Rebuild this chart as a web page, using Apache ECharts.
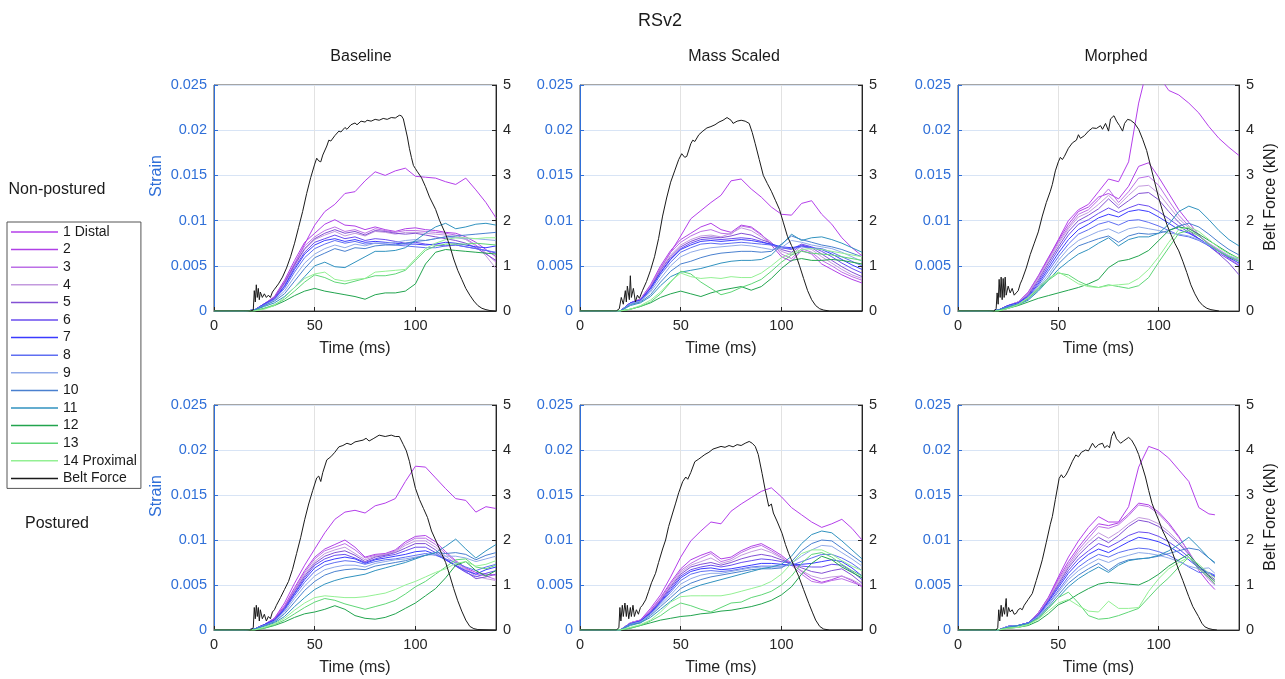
<!DOCTYPE html>
<html>
<head>
<meta charset="utf-8">
<script src="https://cdn.jsdelivr.net/npm/echarts@6/dist/echarts.min.js"></script>
<style>
html,body{margin:0;padding:0;background:#fff;}
#chart{width:1285px;height:679px;}
</style>
</head>
<body>
<div id="chart"></div>
<script>
// ---------- data ----------
const timeGrid = [0,15,20,25,30,35,40,45,50,55,60,65,70,75,80,85,90,95,100,105,110,115,120,125,130,135,140];
const timeGridMorphedPostured = [0,15,20,25,30,35,40,45,50,55,60,65,70,75,80,85,90,95,100,105,110,115,120,125,128];
const gaugeNames = ['1 Distal','2','3','4','5','6','7','8','9','10','11','12','13','14 Proximal'];
const beltName = 'Belt Force';
const columnTitles = ['Baseline','Mass Scaled','Morphed'];
const rowTitles = ['Non-postured','Postured'];
const strainTicks = [0,0.005,0.01,0.015,0.02,0.025];
const forceTicks = [0,1,2,3,4,5];
const timeTicks = [0,50,100];

// strain values in milli-strain (x1e-3); row = gauge 1..14
const strainBaselineNonPostured = [
[0,0,0.1,0.7,1.5, 3.2,5.2,7.4,9.5,11.0, 11.8,13.0,13.2,14.4,15.4, 15.0,15.5,15.8,14.9,14.8, 14.7,14.3,14.0,14.7,13.4, 12.0,10.3],
[0,0,0.1,0.8,1.6, 3.4,5.6,7.6,8.6,9.6, 10.1,9.5,9.4,9.0,9.3, 9.0,8.8,9.1,9.2,9.0, 8.9,8.7,8.6,8.2,7.6, 6.8,6.0],
[0,0,0.1,0.8,1.5, 3.2,5.3,7.2,8.2,8.9, 9.3,8.8,9.0,8.6,9.1, 8.9,8.7,8.9,8.9,8.8, 8.7,8.6,8.4,8.0,7.3, 6.4,5.4],
[0,0,0.1,0.7,1.4, 3.0,5.0,6.8,7.9,8.4, 8.8,8.3,8.6,8.3,8.8, 8.7,8.5,8.7,8.7,8.6, 8.5,8.4,8.2,7.9,7.2, 6.1,4.7],
[0,0,0.1,0.8,1.5, 3.1,5.1,6.9,8.0,8.6, 9.0,8.6,8.8,8.4,8.9, 8.8,8.6,8.5,8.6,8.4, 8.2,8.0,7.8,7.5,7.0, 6.3,5.6],
[0,0,0.1,0.7,1.4, 2.8,4.8,6.5,7.6,8.0, 8.4,8.0,8.2,7.8,8.0, 7.9,7.7,7.5,7.6,7.4, 7.3,7.2,7.3,7.1,6.9, 6.7,6.4],
[0,0,0.1,0.8,1.3, 2.7,4.6,6.3,7.3,7.8, 8.0,7.7,7.9,7.6,7.7, 7.6,7.5,7.4,7.4,7.3, 7.4,7.6,7.5,7.3,7.1, 7.0,7.2],
[0,0,0.1,0.7,1.3, 2.5,4.3,5.9,6.9,7.4, 7.8,7.5,7.7,7.4,7.5, 7.4,7.3,7.2,7.1,7.0, 7.0,7.2,7.3,7.1,6.9, 6.7,6.5],
[0,0,0.1,0.6,1.2, 2.2,3.8,5.3,6.3,6.9, 7.3,7.0,7.4,7.2,7.5, 7.5,7.6,7.8,7.9,7.8, 8.0,8.2,8.1,8.0,8.0, 7.9,7.8],
[0,0,0.1,0.6,1.1, 1.9,3.3,4.7,5.9,6.4, 6.9,6.6,7.0,6.9,7.2, 7.3,7.3,7.5,7.7,7.8, 8.0,8.2,8.3,8.4,8.5, 8.6,8.7],
[0,0,0.1,0.5,0.9, 1.6,2.6,3.8,5.0,5.4, 4.9,4.8,5.4,6.0,6.6, 6.6,6.7,7.0,7.8,8.6, 9.3,9.7,9.1,9.3,9.6, 9.7,9.5],
[0,0,0,0.3,0.6, 1.1,1.7,2.2,2.5,2.2, 2.0,1.8,1.6,1.3,1.8, 2.0,2.0,2.2,3.0,5.2, 6.5,6.8,6.7,6.6,6.5, 6.4,6.3],
[0,0,0,0.3,0.7, 1.3,2.2,3.2,4.0,3.7, 3.2,3.0,3.3,3.6,3.9, 3.9,4.1,4.5,5.6,6.7, 7.2,7.4,7.4,7.4,7.5, 7.4,7.3],
[0,0,0,0.2,0.6, 1.5,2.6,3.6,4.1,4.3, 3.5,3.3,3.5,3.6,4.3, 4.4,4.5,4.6,5.8,6.9, 7.5,7.9,8.1,8.1,8.0, 8.1,8.1]
];
const strainMassScaledNonPostured = [
[0,0,0,0.9,1.3, 2.8,4.7,6.5,8.3,10.2, 11.1,12.0,12.8,14.4,14.6, 13.5,12.6,11.5,10.7,10.6, 11.9,12.2,10.7,9.6,8.1, 7.0,6.1],
[0,0,0,0.9,1.3, 2.9,5.0,6.7,7.9,8.6, 9.3,9.7,9.0,8.7,9.5, 9.3,8.5,7.3,6.0,5.5, 6.7,6.3,5.2,4.6,4.0, 3.5,3.1],
[0,0,0,0.9,1.3, 2.8,4.8,6.5,7.6,8.3, 8.8,9.0,8.6,8.5,9.4, 9.2,8.4,7.6,6.3,5.8, 6.9,6.5,5.6,5.0,4.3, 3.8,3.4],
[0,0,0,0.9,1.2, 2.7,4.6,6.2,7.3,7.9, 8.3,8.4,8.2,8.6,9.2, 8.9,8.2,7.4,6.6,6.2, 7.2,6.8,6.0,5.3,4.6, 4.0,3.6],
[0,0,0,0.9,1.2, 2.6,4.5,6.0,7.1,7.7, 8.1,8.2,8.1,8.3,8.6, 8.4,7.9,7.5,6.8,6.5, 7.3,7.0,6.3,5.6,4.9, 4.3,3.8],
[0,0,0,0.9,1.2, 2.5,4.3,5.8,6.9,7.5, 7.9,8.0,7.9,8.0,8.1, 8.0,7.7,7.3,7.0,6.8, 7.4,7.1,6.6,6.0,5.3, 4.7,4.2],
[0,0,0,0.9,1.2, 2.5,4.2,5.7,6.8,7.3, 7.7,7.8,7.7,7.8,7.9, 7.8,7.6,7.4,7.1,7.0, 7.2,7.0,6.8,6.3,5.7, 5.1,4.6],
[0,0,0,0.8,1.1, 2.3,4.0,5.4,6.5,7.0, 7.4,7.5,7.4,7.5,7.6, 7.5,7.4,7.3,7.0,6.9, 7.1,7.0,6.9,6.5,6.0, 5.5,5.0],
[0,0,0,0.8,1.1, 2.1,3.6,5.0,6.0,6.5, 6.8,7.0,7.1,7.2,7.3, 7.2,7.0,6.8,7.0,7.8, 7.6,7.3,7.1,6.9,6.5, 6.0,5.5],
[0,0,0,0.7,1.0, 1.8,3.2,4.4,5.2,5.5, 5.9,6.2,6.4,6.5,6.6, 6.6,6.5,6.6,7.4,8.3, 7.9,7.6,7.3,7.1,6.8, 6.4,6.0],
[0,0,0,0.6,0.9, 1.6,2.8,3.8,4.3,4.5, 4.7,5.0,5.3,5.5,5.6, 5.6,5.7,6.2,7.3,8.5, 7.8,8.1,8.2,7.9,7.5, 7.0,6.5],
[0,0,0,0.2,0.5, 0.9,1.5,1.9,2.2,1.9, 1.6,2.0,2.3,2.5,2.7, 2.3,2.7,3.6,4.7,5.6, 5.8,5.6,5.6,5.7,5.6, 5.4,5.2],
[0,0,0,0.2,0.5, 1.0,1.9,3.2,4.4,4.1, 3.2,2.5,1.8,2.1,2.6, 3.0,3.5,4.4,5.4,6.2, 6.6,6.4,6.3,6.2,6.0, 5.8,5.6],
[0,0,0,0.2,0.6, 1.2,2.1,3.3,4.2,3.8, 3.6,3.7,3.6,3.8,3.7, 3.7,4.2,5.0,5.9,6.4, 6.8,6.9,6.8,6.6,6.4, 6.2,6.0]
];
const strainMorphedNonPostured = [
[0,0,0.1,0.6,1.0, 2.0,3.8,5.8,7.9,10.0, 11.2,11.8,13.2,14.6,14.3, 16.5,23.0,27.5,26.0,24.4, 23.9,23.0,21.9,20.4,19.1, 18.1,17.2],
[0,0,0.1,0.6,1.0, 2.1,3.9,5.9,7.8,9.6, 11.0,11.5,12.6,13.0,12.4, 13.8,16.0,16.4,14.8,13.0, 11.2,9.8,8.4,7.4,6.7, 6.0,5.5],
[0,0,0.1,0.6,1.0, 2.0,3.8,5.7,7.6,9.3, 10.7,11.2,12.3,13.5,12.0, 13.2,14.7,14.9,13.9,12.2, 10.6,9.4,8.3,7.4,6.6, 5.8,5.1],
[0,0,0.1,0.6,1.0, 1.9,3.6,5.5,7.4,9.1, 10.4,10.9,11.8,12.8,11.7, 12.8,13.8,13.9,13.0,11.6, 10.2,9.2,8.3,7.5,6.8, 6.1,5.6],
[0,0,0.1,0.6,0.9, 1.8,3.4,5.3,7.1,8.8, 10.0,10.6,11.3,12.4,11.4, 12.2,13.0,13.1,12.3,11.0, 9.8,8.9,8.0,7.2,6.3, 5.3,4.0],
[0,0,0.1,0.6,0.9, 1.7,3.2,5.0,6.8,8.4, 9.6,10.1,10.8,11.4,10.9, 11.4,11.8,11.6,11.0,10.2, 9.4,8.7,8.0,7.2,6.4, 5.7,5.0],
[0,0,0.1,0.6,0.9, 1.6,3.0,4.7,6.4,7.9, 9.0,9.6,10.3,10.7,10.4, 11.0,11.2,11.0,10.4,9.7, 9.0,8.6,8.0,7.3,6.6, 5.9,5.3],
[0,0,0.1,0.5,0.8, 1.5,2.8,4.4,6.0,7.4, 8.5,9.0,9.6,9.9,9.5, 10.0,10.1,9.8,9.4,8.9, 8.4,8.2,7.8,7.2,6.6, 6.0,5.5],
[0,0,0.1,0.5,0.8, 1.4,2.6,4.0,5.6,6.9, 7.8,8.3,8.8,9.1,8.6, 9.1,9.3,9.1,8.9,8.6, 8.5,8.3,7.9,7.3,6.7, 6.1,5.7],
[0,0,0.1,0.5,0.8, 1.3,2.4,3.7,5.2,6.3, 7.2,7.6,8.0,8.3,7.6, 8.3,8.6,8.5,8.6,8.9, 9.4,9.7,9.3,8.5,7.6, 6.8,6.2],
[0,0,0.1,0.4,0.7, 1.2,2.2,3.4,4.6,5.5, 6.3,6.8,7.5,8.1,7.2, 7.9,8.2,8.2,8.6,9.6, 11.0,11.6,11.2,10.1,8.9, 7.9,7.2],
[0,0,0,0.3,0.6, 1.0,1.4,1.7,2.0,2.3, 2.6,3.0,3.5,4.8,5.5, 5.7,6.1,6.7,7.8,8.9, 9.3,9.1,8.5,7.8,7.1, 6.4,5.8],
[0,0,0,0.3,0.7, 1.4,2.4,3.4,4.2,4.0, 3.3,2.8,2.6,2.9,2.7, 2.5,2.8,3.7,5.4,7.0, 8.6,8.9,8.3,7.4,6.6, 6.0,5.5],
[0,0,0,0.3,0.7, 1.5,2.6,3.6,4.3,3.7, 3.0,2.7,2.6,2.8,2.9, 3.0,3.6,4.6,6.0,7.6, 9.0,9.3,8.8,7.9,7.0, 6.3,5.8]
];
const strainBaselinePostured = [
[0,0,0.1,0.6,1.3, 3.0,5.2,7.2,9.0,10.8, 12.3,13.1,13.3,13.0,13.8, 14.1,14.6,16.5,18.2,18.1, 16.9,15.7,14.6,14.4,13.1, 13.7,13.5],
[0,0,0.1,0.6,1.3, 2.7,4.7,6.6,8.1,9.0, 9.5,10.0,9.2,8.1,8.4, 8.5,8.9,9.8,10.4,10.5, 9.8,8.7,7.7,6.9,6.4, 6.2,6.1],
[0,0,0.1,0.6,1.2, 2.6,4.5,6.4,7.9,8.8, 9.2,9.6,8.9,8.0,8.3, 8.4,8.8,9.6,10.2,10.2, 9.5,8.5,7.6,6.8,6.2, 6.0,5.6],
[0,0,0.1,0.6,1.2, 2.5,4.4,6.2,7.6,8.5, 8.9,9.2,8.5,7.8,8.2, 8.4,8.7,9.4,9.9,9.9, 9.2,8.2,7.4,6.7,6.0, 5.7,5.5],
[0,0,0.1,0.6,1.2, 2.5,4.3,6.0,7.4,8.2, 8.6,8.8,8.3,7.6,8.1, 8.3,8.6,9.1,9.6,9.6, 8.9,7.9,7.1,6.5,5.7, 5.9,6.2],
[0,0,0.1,0.6,1.1, 2.4,4.1,5.8,7.2,7.9, 8.3,8.4,8.0,7.5,7.9, 8.2,8.4,8.8,9.2,9.2, 8.6,7.8,7.1,6.4,5.9, 6.3,6.6],
[0,0,0.1,0.6,1.1, 2.3,4.0,5.6,6.9,7.6, 7.9,8.1,7.9,7.4,7.8, 8.0,8.2,8.4,8.7,8.8, 8.4,7.8,7.2,6.6,6.2, 6.7,7.0],
[0,0,0.1,0.5,1.0, 2.2,3.8,5.3,6.5,7.2, 7.5,7.7,7.6,7.3,7.6, 7.8,7.9,8.1,8.3,8.5, 8.3,7.9,7.5,7.0,6.6, 7.0,7.3],
[0,0,0.1,0.5,0.9, 2.0,3.5,4.9,6.0,6.7, 7.0,7.2,7.2,7.0,7.4, 7.6,7.8,7.9,8.1,8.3, 8.4,8.2,8.2,8.0,7.6, 7.9,8.2],
[0,0,0.1,0.5,0.9, 1.8,3.1,4.4,5.4,6.1, 6.5,6.7,6.8,6.7,7.1, 7.3,7.5,7.7,8.0,8.3, 8.6,8.5,8.6,8.4,7.8, 8.3,8.6],
[0,0,0.1,0.4,0.8, 1.5,2.6,3.6,4.5,5.1, 5.5,5.8,6.0,6.2,6.6, 6.9,7.2,7.5,7.9,8.3, 8.6,9.3,10.1,9.0,8.0, 8.8,9.5],
[0,0,0,0.2,0.5, 0.9,1.4,1.8,2.0,2.3, 2.7,2.3,1.6,1.3,1.2, 1.4,1.8,2.4,3.0,3.8, 4.6,5.8,7.2,7.6,6.6, 6.0,6.6],
[0,0,0,0.2,0.6, 1.1,1.8,2.5,3.1,3.5, 3.3,2.9,2.6,2.3,2.6, 2.9,3.3,4.0,4.8,5.4, 6.2,7.0,7.8,7.9,7.0, 6.8,7.2],
[0,0,0,0.3,0.7, 1.3,2.2,3.0,3.6,3.8, 3.7,3.6,3.6,3.7,3.9, 4.1,4.5,5.0,5.4,5.9, 6.4,6.8,7.4,7.6,7.1, 7.3,7.7]
];
const strainMassScaledPostured = [
[0,0,0,0.8,1.1, 2.4,3.9,5.9,8.1,9.9, 11.0,12.0,11.8,13.2,14.0, 14.7,15.4,15.8,14.8,13.6, 12.8,12.0,11.4,11.8,12.3, 11.3,10.0],
[0,0,0,0.8,1.1, 2.2,3.6,5.3,6.8,7.8, 8.3,8.7,7.9,8.1,8.8, 9.3,9.6,9.0,8.3,7.4, 6.5,5.7,5.3,5.6,6.0, 5.5,4.8],
[0,0,0,0.8,1.1, 2.1,3.5,5.1,6.6,7.4, 8.0,8.5,7.6,7.9,8.6, 9.1,9.4,8.8,8.1,7.2, 6.2,5.4,5.2,5.5,5.7, 5.3,4.9],
[0,0,0,0.8,1.0, 2.0,3.4,4.9,6.4,7.2, 7.6,8.0,7.4,7.7,8.3, 8.7,9.0,8.6,8.0,7.3, 6.6,6.0,5.7,5.9,6.0, 5.6,5.0],
[0,0,0,0.7,1.0, 2.0,3.3,4.8,6.2,7.0, 7.3,7.5,7.2,7.5,7.9, 8.2,8.4,8.2,7.8,7.4, 6.9,6.5,6.3,6.6,6.8, 6.1,5.2],
[0,0,0,0.7,1.0, 1.9,3.2,4.6,6.0,6.7, 7.0,7.2,7.0,7.2,7.5, 7.7,7.9,7.8,7.6,7.4, 7.1,7.0,7.0,7.3,7.2, 6.5,5.6],
[0,0,0,0.7,1.0, 1.9,3.1,4.4,5.8,6.5, 6.8,6.9,6.7,6.8,7.0, 7.2,7.4,7.4,7.3,7.2, 7.3,7.4,7.6,7.8,7.6, 6.9,6.0],
[0,0,0,0.7,0.9, 1.8,3.0,4.2,5.5,6.2, 6.5,6.6,6.5,6.6,6.8, 7.0,7.1,7.1,7.1,7.2, 7.6,8.0,8.4,8.4,8.0, 7.4,6.6],
[0,0,0,0.6,0.9, 1.7,2.8,3.9,5.1,5.7, 6.1,6.3,6.3,6.5,6.7, 6.9,7.0,7.0,7.0,7.4, 8.2,8.9,9.4,9.3,8.6, 7.9,7.1],
[0,0,0,0.6,0.8, 1.6,2.6,3.6,4.6,5.2, 5.6,5.9,6.1,6.3,6.5, 6.7,6.8,6.8,6.9,7.6, 8.8,9.6,10.0,9.9,9.1, 8.3,7.5],
[0,0,0,0.5,0.8, 1.4,2.3,3.2,4.1,4.6, 5.0,5.3,5.6,5.9,6.2, 6.5,6.8,7.0,7.3,8.2, 9.6,10.6,11.0,10.8,9.9, 8.9,7.9],
[0,0,0,0.2,0.5, 0.8,1.1,1.3,1.5,1.6, 1.8,1.9,2.1,2.2,2.4, 2.6,2.9,3.3,3.9,4.8, 6.2,7.4,8.2,7.8,7.0, 6.4,5.8],
[0,0,0,0.2,0.5, 1.0,1.6,2.4,3.0,2.7, 2.3,2.0,2.5,3.0,3.1, 3.6,3.9,4.3,5.0,6.0, 7.4,8.4,8.6,8.1,7.3, 6.6,6.0],
[0,0,0,0.3,0.6, 1.1,2.0,3.1,3.7,3.8, 3.8,3.8,3.8,4.0,4.3, 4.6,4.9,5.4,6.2,7.4, 8.5,8.9,8.9,8.4,7.7, 7.1,6.6]
];
const strainMorphedPostured = [
[0,0,0,0.4,0.5, 0.8,1.9,3.6,5.9,8.1, 9.9,11.4,12.6,12.0,12.0, 13.7,18.1,20.4,20.0,19.1, 17.8,16.5,13.6,12.9,12.8],
[0,0,0,0.4,0.5, 0.8,1.9,3.6,5.7,7.6, 9.2,10.6,11.8,11.6,11.9, 12.9,14.1,13.9,13.1,11.9, 10.4,8.6,6.6,5.2,4.5],
[0,0,0,0.4,0.5, 0.8,1.8,3.5,5.5,7.3, 8.9,10.2,11.5,11.3,11.7, 12.7,13.9,13.7,12.9,11.7, 10.3,8.7,6.9,5.6,5.0],
[0,0,0,0.4,0.5, 0.8,1.8,3.4,5.3,7.1, 8.6,9.8,10.8,10.2,10.9, 11.8,12.5,12.3,11.8,10.9, 9.8,8.5,7.0,5.9,5.3],
[0,0,0,0.4,0.5, 0.8,1.7,3.3,5.1,6.9, 8.3,9.4,10.3,9.7,10.5, 11.5,12.2,12.0,11.5,10.6, 9.6,8.4,7.1,6.1,5.6],
[0,0,0,0.4,0.5, 0.8,1.7,3.2,4.9,6.6, 7.9,8.8,9.6,9.2,9.8, 10.5,10.9,10.8,10.4,9.8, 9.0,8.1,7.1,6.3,5.9],
[0,0,0,0.4,0.5, 0.8,1.6,3.1,4.7,6.3, 7.5,8.4,9.0,8.6,9.2, 9.8,10.3,10.1,9.8,9.3, 8.6,7.8,6.9,6.3,6.0],
[0,0,0,0.4,0.5, 0.8,1.6,2.9,4.4,5.9, 7.0,7.8,8.4,8.1,8.6, 8.9,9.1,9.0,8.7,8.3, 7.7,7.0,6.4,6.4,6.1],
[0,0,0,0.4,0.5, 0.7,1.5,2.8,4.2,5.6, 6.6,7.3,7.9,7.5,8.0, 8.3,8.6,8.5,8.3,8.0, 7.6,7.1,6.8,6.9,6.3],
[0,0,0,0.3,0.5, 0.7,1.4,2.6,3.9,5.2, 6.1,6.8,7.4,6.6,7.4, 7.8,7.9,8.0,8.2,8.5, 8.8,9.1,8.9,8.0,7.4],
[0,0,0,0.3,0.5, 0.7,1.3,2.4,3.6,4.8, 5.7,6.4,7.0,6.4,7.2, 7.7,7.9,8.0,8.3,8.8, 9.5,10.3,9.2,8.0,7.5],
[0,0,0,0.2,0.3, 0.5,1.0,1.8,2.8,3.3, 4.0,4.6,5.1,5.3,5.2, 5.1,5.0,5.5,6.2,7.1, 7.8,8.4,7.1,6.0,5.4],
[0,0,0,0.2,0.3, 0.6,1.3,2.4,3.6,4.2, 3.0,1.6,1.2,1.3,1.6, 2.0,2.4,3.6,4.8,5.8, 7.0,8.1,6.8,5.8,5.1],
[0,0,0,0.2,0.3, 0.6,1.2,2.1,3.0,3.4, 2.7,2.1,2.0,3.2,2.4, 2.4,2.5,4.3,5.7,6.8, 7.5,8.1,7.3,6.3,5.8]
];

// belt force [time ms, kN]
const beltBaselineNonPostured = [[0,0],[18,0],[19.5,0.02],[20,0.45],[20.5,0.2],[21,0.58],[21.5,0.3],[22,0.5],[22.5,0.25],[23,0.42],[24,0.3],[25,0.38],[26,0.3],[27,0.35],[28,0.3],[29,0.42],[30,0.48],[32,0.6],[34,0.75],[36,0.95],[38,1.2],[40,1.5],[42,1.85],[44,2.2],[46,2.6],[48,2.95],[50,3.25],[51,3.38],[52,3.32],[53,3.3],[54,3.45],[56,3.65],[57,3.78],[58,3.76],[60,3.88],[62,3.98],[63,3.96],[65,4.06],[66,4.02],[68,4.12],[70,4.16],[71,4.12],[73,4.2],[75,4.18],[76,4.22],[78,4.2],[80,4.24],[82,4.22],[84,4.26],[86,4.24],[88,4.28],[90,4.27],[92,4.33],[93,4.32],[94,4.25],[95,4.05],[96,3.85],[97,3.6],[98,3.4],[99,3.22],[100,3.15],[101,3.08],[103,2.95],[105,2.75],[107,2.52],[110,2.25],[112,2.0],[115,1.7],[117,1.45],[119,1.15],[121,0.9],[123,0.7],[125,0.5],[127,0.35],[129,0.22],[131,0.12],[133,0.06],[135,0.03],[137,0.01],[140,0]];
const beltMassScaledNonPostured = [[0,0],[18,0],[19.5,0.05],[20.5,0.3],[21.5,0.15],[22.5,0.45],[23,0.2],[23.5,0.55],[24.5,0.25],[25,0.78],[25.5,0.3],[26.5,0.5],[27.5,0.2],[28.5,0.35],[29.5,0.28],[31,0.45],[33,0.65],[35,0.9],[37,1.2],[39,1.6],[41,2.1],[43,2.5],[45,2.85],[47,3.1],[49,3.35],[50.5,3.48],[52,3.4],[53,3.42],[55,3.7],[56,3.78],[57,3.75],[59,3.9],[61,3.98],[63,4.05],[65,4.08],[67,4.12],[69,4.18],[71,4.22],[73,4.28],[75,4.22],[76,4.15],[78,4.2],[80,4.22],[82,4.2],[84,4.15],[85.5,3.95],[87,3.7],[89,3.35],[91,3.0],[93,2.82],[95,2.65],[97,2.45],[99,2.25],[101,1.95],[103,1.65],[105,1.45],[107,1.26],[109,1.0],[111,0.72],[113,0.45],[115,0.25],[117,0.12],[119,0.05],[121,0.02],[124,0],[140,0]];
const beltMorphedNonPostured = [[0,0],[18,0],[19,0.05],[19.5,0.4],[20,0.15],[20.5,0.7],[21,0.3],[21.5,0.75],[22,0.25],[22.5,0.72],[23,0.3],[23.5,0.75],[24,0.35],[25,0.55],[26,0.4],[27,0.5],[28,0.35],[29,0.4],[30,0.45],[31,0.6],[32,0.7],[34,0.95],[36,1.25],[38,1.5],[40,1.75],[42,2.1],[44,2.4],[46,2.65],[47,2.8],[48.5,3.1],[50,3.3],[51,3.4],[52,3.35],[53,3.42],[55,3.6],[57,3.72],[59,3.78],[60,3.9],[61,3.82],[63,3.88],[65,3.98],[67,4.05],[69,4.04],[71,4.1],[72,4.02],[73.5,4.15],[75,3.98],[76,4.25],[77.7,4.32],[79,4.2],[80.5,4.1],[82,3.98],[83,4.15],[84.5,4.24],[86,4.22],[88,4.15],[90,4.02],[92,3.8],[94,3.55],[96,3.2],[98,2.85],[100,2.5],[102,2.2],[104,1.92],[106,1.7],[108,1.5],[110,1.33],[112,1.1],[114,0.85],[116,0.58],[118,0.38],[120,0.22],[122,0.12],[124,0.06],[126,0.03],[130,0]];
const beltBaselinePostured = [[0,0],[18,0],[19.5,0.05],[20,0.5],[20.5,0.25],[21,0.55],[21.5,0.3],[22,0.5],[22.5,0.2],[23,0.45],[24,0.25],[25,0.35],[26,0.2],[27,0.3],[28,0.25],[29,0.4],[30,0.45],[31,0.55],[33,0.72],[35,0.9],[37,1.08],[39,1.35],[41,1.7],[43,2.05],[45,2.45],[47,2.8],[49,3.1],[51,3.38],[52,3.42],[53,3.3],[54,3.5],[56,3.78],[58,3.85],[60,3.95],[62,4.07],[64,4.1],[66,4.15],[68,4.12],[70,4.18],[72,4.2],[74,4.22],[75.5,4.26],[77,4.2],[79,4.25],[82,4.33],[85,4.3],[88,4.33],[90,4.3],[92,4.3],[94,4.12],[95.5,3.98],[97,3.75],[98.7,3.4],[100,3.15],[102,2.9],[104,2.7],[106,2.5],[108,2.2],[110,2.0],[113,1.7],[115,1.5],[117,1.22],[119,0.92],[121,0.65],[123,0.42],[125,0.22],[127,0.08],[129,0.03],[131,0.01],[140,0]];
const beltMassScaledPostured = [[0,0],[18,0],[19.3,0.05],[19.8,0.5],[20.3,0.2],[21,0.55],[21.5,0.3],[22.3,0.6],[23,0.3],[23.5,0.55],[24.2,0.25],[25,0.5],[25.5,0.3],[26.3,0.55],[27,0.3],[28,0.45],[29,0.35],[30,0.5],[31,0.55],[32.6,0.67],[34,0.85],[35.5,1.05],[37.5,1.26],[39,1.5],[41,1.8],[42.5,2.0],[44,2.3],[46,2.6],[47.5,2.82],[49,3.05],[51,3.3],[52.5,3.4],[53.5,3.35],[55,3.5],[57,3.74],[59,3.8],[60.5,3.85],[62,3.9],[64,3.95],[66,4.02],[68,4.05],[70,4.08],[72,4.06],[74,4.1],[76,4.07],[78,4.12],[80,4.1],[82,4.15],[84,4.19],[85.5,4.15],[87,4.08],[88.5,3.9],[90.4,3.48],[92,3.1],[93.7,2.75],[95,2.8],[96,2.6],[98,2.4],[100.3,2.15],[102,1.9],[103.6,1.7],[106,1.45],[108.6,1.19],[111,0.9],[113.6,0.59],[115.5,0.38],[117,0.22],[119,0.08],[121,0.02],[124,0],[140,0]];
const beltMorphedPostured = [[0,0],[19,0],[19.8,0.05],[20.3,0.45],[20.8,0.2],[21.5,0.55],[22,0.3],[22.6,0.5],[23.2,0.35],[24,0.7],[24.5,0.3],[25.2,0.5],[26,0.4],[27,0.45],[28,0.35],[29,0.37],[30,0.45],[31,0.48],[32,0.45],[33,0.55],[35,0.68],[37,0.81],[39,1.1],[41,1.4],[42,1.56],[44,1.95],[46,2.35],[47,2.52],[48.5,2.9],[50.4,3.37],[51.5,3.45],[52.5,3.38],[53.7,3.44],[55,3.55],[57,3.75],[58.7,3.89],[60,3.85],[61.5,3.95],[63.6,4.0],[65,3.98],[67,4.15],[68.5,4.05],[70,4.12],[72,4.15],[73,4.05],[74.4,4.1],[75.5,4.05],[76.5,4.3],[77.7,4.41],[79,4.25],[81,4.15],[82.5,4.2],[85,4.28],[86.5,4.22],[88.4,4.07],[90,3.9],[91.7,3.65],[93.4,3.4],[95,3.1],[96.7,2.81],[98.5,2.6],[100,2.44],[102,2.2],[105,1.93],[107,1.7],[110,1.33],[112,1.1],[115,0.74],[117,0.52],[119.8,0.3],[121.5,0.15],[123,0.07],[125,0.03],[127,0.01],[129,0]];

// ---------- styles ----------
const gaugeColors = ['#b43fea','#b040e6','#bc6fe6','#c39ade','#8350d4','#6a4cef','#3b3bff','#5f6ef2','#8fa9e8','#4a80cf','#3192bf','#22a44e','#5fd676','#93f093'];
const beltColor = '#1a1a1a';
const blue = '#2f6fd8';
const dark = '#262626';
const FONT = '"Liberation Sans", Arial, Helvetica, sans-serif';

const panels = [
  {strain: strainBaselineNonPostured, belt: beltBaselineNonPostured, time: timeGrid, left: 214, top: 85, width: 282, height: 226},
  {strain: strainMassScaledNonPostured, belt: beltMassScaledNonPostured, time: timeGrid, left: 580, top: 85, width: 282, height: 226},
  {strain: strainMorphedNonPostured, belt: beltMorphedNonPostured, time: timeGrid, left: 958, top: 85, width: 281, height: 226},
  {strain: strainBaselinePostured, belt: beltBaselinePostured, time: timeGrid, left: 214, top: 405, width: 282, height: 225},
  {strain: strainMassScaledPostured, belt: beltMassScaledPostured, time: timeGrid, left: 580, top: 405, width: 282, height: 225},
  {strain: strainMorphedPostured, belt: beltMorphedPostured, time: timeGridMorphedPostured, left: 958, top: 405, width: 281, height: 225}
];

const grids = [], xAxes = [], yAxes = [], series = [];
panels.forEach((p, i) => {
  grids.push({left: p.left, top: p.top, width: p.width, height: p.height, show: true,
    borderColor: '#4a4a4a', borderWidth: 1, backgroundColor: 'transparent'});
  xAxes.push({type: 'value', gridIndex: i, min: timeTicks[0], max: 140, interval: 50,
    axisLine: {show: true, onZero: false, lineStyle: {color: dark, width: 1}},
    axisTick: {show: true, inside: true, length: 4, lineStyle: {color: dark}},
    axisLabel: {color: dark, fontSize: 14.5, margin: 7, fontFamily: FONT, showMaxLabel: false},
    splitLine: {show: true, lineStyle: {color: '#e2e2e2', width: 1}},
    name: 'Time (ms)', nameLocation: 'middle', nameGap: 30,
    nameTextStyle: {fontSize: 16, color: dark, fontFamily: FONT}});
  yAxes.push({type: 'value', gridIndex: i, position: 'left', min: strainTicks[0], max: strainTicks[strainTicks.length-1], interval: 0.005,
    axisLine: {show: true, onZero: false, lineStyle: {color: blue, width: 1}},
    axisTick: {show: true, inside: true, length: 4, lineStyle: {color: blue}},
    axisLabel: {color: blue, fontSize: 14.5, margin: 7, fontFamily: FONT,
      formatter: v => String(+(+v).toFixed(4))},
    splitLine: {show: true, lineStyle: {color: '#d8e4f5', width: 1}}});
  yAxes.push({type: 'value', gridIndex: i, position: 'right', min: forceTicks[0], max: forceTicks[forceTicks.length-1], interval: 1,
    axisLine: {show: true, onZero: false, lineStyle: {color: dark, width: 1}},
    axisTick: {show: true, inside: true, length: 4, lineStyle: {color: dark}},
    axisLabel: {color: dark, fontSize: 14.5, margin: 7, fontFamily: FONT},
    splitLine: {show: false}});
  p.strain.forEach((row, g) => {
    series.push({type: 'line', name: gaugeNames[g], xAxisIndex: i, yAxisIndex: 2*i,
      data: p.time.map((t, k) => [t, row[k] / 1000]),
      symbol: 'none', showSymbol: false, clip: true, silent: true, z: 2,
      lineStyle: {width: 1, color: gaugeColors[g]}, itemStyle: {color: gaugeColors[g]}});
  });
  series.push({type: 'line', name: beltName, xAxisIndex: i, yAxisIndex: 2*i+1,
    data: p.belt, symbol: 'none', showSymbol: false, clip: true, silent: true, z: 3,
    lineStyle: {width: 1, color: beltColor}, itemStyle: {color: beltColor}});
});

function txt(text, x, y, size, color, rot) {
  return {type: 'text', x: x, y: y, rotation: rot || 0, silent: true,
    style: {text: text, fill: color, font: size + 'px ' + FONT, fontSize: size, fontFamily: FONT,
      align: 'center', verticalAlign: 'middle', textAlign: 'center', textVerticalAlign: 'middle'}};
}

const option = {
  animation: false,
  backgroundColor: '#ffffff',
  textStyle: {fontFamily: FONT},
  grid: grids, xAxis: xAxes, yAxis: yAxes, series: series,
  legend: {show: true, orient: 'vertical', left: 7, top: 222,
    data: gaugeNames.concat([beltName]),
    icon: 'rect', itemWidth: 47, itemHeight: 1.5, itemGap: 3.6, padding: [3, 4, 3, 4],
    borderColor: '#555', borderWidth: 1, backgroundColor: '#fff', selectedMode: false,
    textStyle: {fontSize: 14, color: '#1a1a1a', fontFamily: FONT, lineHeight: 14}},
  graphic: [
    txt('RSv2', 660, 21, 18, '#1a1a1a'),
    txt(columnTitles[0], 361, 57, 16, '#1a1a1a'),
    txt(columnTitles[1], 734, 57, 16, '#1a1a1a'),
    txt(columnTitles[2], 1116, 57, 16, '#1a1a1a'),
    txt(rowTitles[0], 57, 190, 16, '#1a1a1a'),
    txt(rowTitles[1], 57, 524, 16, '#1a1a1a'),
    txt('Strain', 157, 176, 16, blue, Math.PI / 2),
    txt('Strain', 157, 496, 16, blue, Math.PI / 2),
    txt('Belt Force (kN)', 1271, 197, 16, '#1a1a1a', Math.PI / 2),
    txt('Belt Force (kN)', 1271, 517, 16, '#1a1a1a', Math.PI / 2)
  ]
};

const chart = echarts.init(document.getElementById('chart'), null, {renderer: 'canvas'});
chart.setOption(option);
</script>
</body>
</html>
